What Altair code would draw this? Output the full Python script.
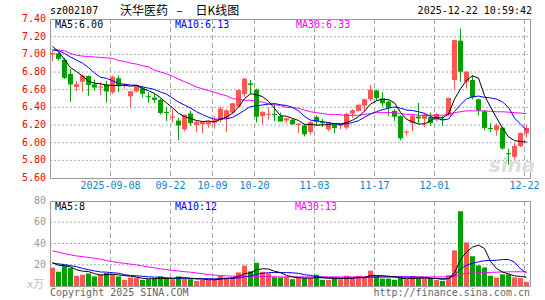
import altair as alt
import pandas as pd
import numpy as np

# ---------------- data ----------------
opens = [7.00, 7.01, 6.94, 6.78, 6.63, 6.69, 6.755, 6.66, 6.63, 6.655,
         6.57, 6.73, 6.64, 6.525, 6.58, 6.615, 6.525, 6.51, 6.485, 6.345,
         6.285, 6.25, 6.15, 6.33, 6.20, 6.21, 6.21, 6.23, 6.26, 6.28,
         6.34, 6.41, 6.55, 6.67, 6.60, 6.30, 6.315, 6.325, 6.30, 6.25,
         6.26, 6.20, 6.195, 6.12, 6.29, 6.23, 6.15, 6.21, 6.19, 6.17,
         6.33, 6.36, 6.42, 6.49, 6.59, 6.50, 6.465, 6.36, 6.30, 6.115,
         6.22, 6.295, 6.27, 6.29, 6.26, 6.27, 6.31, 6.71, 7.155, 6.69,
         6.71, 6.49, 6.355, 6.165, 6.14, 6.17, 5.88, 5.84, 5.96, 6.105]
highs = [7.04, 7.02, 6.96, 6.83, 6.70, 6.77, 6.76, 6.715, 6.685, 6.70,
         6.76, 6.76, 6.67, 6.58, 6.645, 6.645, 6.57, 6.55, 6.50, 6.40,
         6.38, 6.28, 6.32, 6.36, 6.25, 6.24, 6.25, 6.30, 6.41, 6.38,
         6.45, 6.595, 6.73, 6.71, 6.61, 6.36, 6.40, 6.43, 6.34, 6.28,
         6.27, 6.22, 6.21, 6.24, 6.31, 6.27, 6.23, 6.22, 6.21, 6.34,
         6.38, 6.43, 6.50, 6.655, 6.60, 6.57, 6.48, 6.38, 6.31, 6.14,
         6.32, 6.45, 6.33, 6.34, 6.33, 6.30, 6.51, 7.16, 7.29, 6.80,
         6.76, 6.50, 6.37, 6.22, 6.22, 6.18, 5.93, 5.995, 6.115, 6.20]
lows = [6.92, 6.93, 6.72, 6.46, 6.58, 6.58, 6.53, 6.59, 6.54, 6.455,
        6.55, 6.57, 6.61, 6.40, 6.57, 6.51, 6.45, 6.45, 6.32, 6.245,
        6.225, 6.03, 6.13, 6.19, 6.12, 6.11, 6.17, 6.16, 6.23, 6.12,
        6.32, 6.40, 6.52, 6.55, 6.23, 6.21, 6.26, 6.245, 6.24, 6.22,
        6.20, 6.11, 6.07, 6.09, 6.19, 6.18, 6.13, 6.11, 6.15, 6.15,
        6.28, 6.35, 6.35, 6.47, 6.48, 6.41, 6.30, 6.245, 6.03, 6.08,
        6.13, 6.22, 6.18, 6.19, 6.24, 6.19, 6.30, 6.60, 6.69, 6.615,
        6.49, 6.31, 6.14, 6.12, 6.08, 5.92, 5.75, 5.81, 5.95, 6.06]
closes = [7.01, 6.955, 6.74, 6.665, 6.655, 6.755, 6.66, 6.63, 6.63, 6.585,
          6.74, 6.645, 6.65, 6.575, 6.635, 6.56, 6.52, 6.49, 6.34, 6.34,
          6.29, 6.20, 6.31, 6.225, 6.23, 6.23, 6.23, 6.25, 6.38, 6.36,
          6.44, 6.59, 6.72, 6.66, 6.30, 6.34, 6.32, 6.32, 6.245, 6.27,
          6.215, 6.21, 6.10, 6.23, 6.24, 6.225, 6.225, 6.17, 6.195, 6.32,
          6.36, 6.425, 6.485, 6.595, 6.51, 6.45, 6.40, 6.30, 6.055, 6.12,
          6.30, 6.28, 6.31, 6.23, 6.32, 6.26, 6.50, 7.155, 6.81, 6.80,
          6.52, 6.37, 6.17, 6.16, 6.19, 5.94, 5.875, 5.955, 6.105, 6.16]
volumes = [17.3, 13.4, 19.2, 17.0, 9.6, 10.6, 11.8, 9.0, 10.6, 12.2,
           11.5, 9.0, 5.8, 8.0, 7.7, 5.8, 6.4, 7.0, 9.0, 7.4,
           6.4, 9.0, 7.0, 6.4, 4.8, 5.8, 5.8, 6.4, 9.6, 8.0,
           8.3, 12.8, 19.2, 13.8, 21.8, 13.4, 11.8, 8.3, 8.0, 8.6,
           6.4, 7.4, 7.4, 7.4, 10.6, 5.8, 5.8, 7.4, 6.4, 9.6,
           7.4, 9.6, 8.0, 14.4, 9.6, 7.0, 7.0, 5.8, 8.0, 6.4,
           9.0, 7.0, 7.0, 7.0, 5.8, 4.8, 10.2, 33.6, 70.4, 41.0,
           28.0, 19.5, 17.5, 9.6, 8.0, 11.0, 11.0, 8.0, 7.5, 4.0]

# moving-average values shown before a full window is available
ma5_head = [7.09, 7.03, 6.94, 6.85]
ma10_head = [7.05, 7.04, 7.01, 6.97, 6.935, 6.90, 6.85, 6.79, 6.74]
ma30_line = [7.05, 7.05, 7.04, 7.01, 6.99, 6.98, 6.975, 6.97, 6.965, 6.96,
             6.955, 6.93, 6.92, 6.90, 6.89, 6.87, 6.86, 6.82, 6.80, 6.78,
             6.75, 6.72, 6.69, 6.66, 6.63, 6.61, 6.59, 6.57, 6.55, 6.53,
             6.50, 6.49, 6.48, 6.48, 6.47, 6.46, 6.44, 6.43, 6.42, 6.40,
             6.40, 6.39, 6.37, 6.35, 6.34, 6.33, 6.32, 6.32, 6.315, 6.31,
             6.31, 6.31, 6.32, 6.33, 6.34, 6.34, 6.34, 6.34, 6.33, 6.32,
             6.32, 6.31, 6.31, 6.31, 6.31, 6.31, 6.32, 6.34, 6.35, 6.36,
             6.36, 6.36, 6.36, 6.355, 6.35, 6.35, 6.345, 6.34, 6.335, 6.33]
vol_ma5_head = [22.0, 19.5, 19.2, 18.0]
vol_ma10_head = [21.4, 20.8, 20.2, 19.2, 18.2, 16.6, 15.4, 14.2, 13.2]
vol_ma30_line = [33.0, 31.8, 30.5, 29.3, 28.3, 27.6, 26.9, 26.1, 25.2, 24.0,
                 23.0, 22.0, 21.3, 20.6, 19.8, 18.9, 18.0, 17.1, 16.2, 15.4,
                 14.7, 14.1, 13.5, 13.0, 12.3, 11.5, 10.7, 10.2, 9.8, 9.5,
                 9.3, 9.1, 9.0, 9.0, 9.0, 9.0, 8.8, 8.7, 8.6, 8.6,
                 8.6, 8.6, 8.6, 8.6, 8.6, 8.6, 8.6, 8.6, 8.6, 8.6,
                 8.6, 8.6, 8.6, 8.6, 8.6, 8.6, 8.6, 8.6, 8.6, 8.6,
                 8.6, 8.6, 8.6, 8.6, 8.6, 8.6, 8.6, 9.5, 11.2, 11.9,
                 12.2, 12.4, 12.6, 12.8, 13.0, 13.2, 13.3, 13.4, 13.4, 13.3]

tick_idx = [10, 20, 27, 34, 44, 54, 64, 79]
tick_labels = ["2025-09-08", "09-22", "10-09", "10-20", "11-03", "11-17", "12-01", "12-22"]
price_ticks = [7.40, 7.20, 7.00, 6.80, 6.60, 6.40, 6.20, 6.00, 5.80, 5.60]
price_grid = [7.20, 7.00, 6.80, 6.60, 6.40, 6.20, 6.00, 5.80]
vol_ticks = [80, 60, 40, 20]
vol_grid = [60, 40, 20]
ma_price_labels = ["MA5:6.00", "MA10:6.13", "MA30:6.33"]
ma_vol_labels = ["MA5:8", "MA10:12", "MA30:13"]
title_parts = ["沃华医药", "–", "日K线图"]

# ---------------- derived table ----------------
n = len(closes)
df = pd.DataFrame({"i": np.arange(n), "open": opens, "high": highs, "low": lows,
                   "close": closes, "volume": volumes})
df["dir"] = np.where(df["close"] >= df["open"], "up", "down")
df["xa"] = df["i"]
df["xb"] = df["i"] + 5 / 6
df["xm"] = df["i"] + 2.5 / 6
df["zero"] = 0.0
ma5 = df["close"].rolling(5).mean().to_numpy()
ma5[:4] = ma5_head
ma10 = df["close"].rolling(10).mean().to_numpy()
ma10[:9] = ma10_head
df["ma5"] = ma5
df["ma10"] = ma10
df["ma30"] = ma30_line
vma5 = df["volume"].rolling(5).mean().to_numpy()
vma5[:4] = vol_ma5_head
vma10 = df["volume"].rolling(10).mean().to_numpy()
vma10[:9] = vol_ma10_head
df["vma5"] = vma5
df["vma10"] = vma10
df["vma30"] = vol_ma30_line

ticks_df = pd.DataFrame({"idx": tick_idx, "lab": tick_labels})
ticks_df["gx"] = ticks_df["idx"] + 1 / 12
pt_df = pd.DataFrame({"p": price_ticks, "lab": [f"{p:.2f}" for p in price_ticks]})
pg_df = pd.DataFrame({"p": price_grid})
vt_df = pd.DataFrame({"v": vol_ticks, "lab": [str(v) for v in vol_ticks]})
vg_df = pd.DataFrame({"v": vol_grid})

# ---------------- styling ----------------
RED = "#ff5555"
GREEN = "#00a000"
MONO = "DejaVu Sans Mono"
CJK = "Noto Sans CJK SC"
GRID = "#aaaaaa"
BORDER = "#999999"
W, H = 480, 267
PRICE_H = 159
VOL_TOP, VOL_BOT = 182, 267

xs = alt.Scale(domain=[0, 80], nice=False, zero=False)
ps = alt.Scale(domain=[5.6, 7.4], range=[PRICE_H, 0], nice=False, zero=False)
vs = alt.Scale(domain=[0, 80], range=[VOL_BOT, VOL_TOP], nice=False, zero=False)
cs = alt.Scale(domain=["up", "down"], range=[RED, GREEN])


def X(f):
    return alt.X(f"{f}:Q", scale=xs, axis=None)


def PY(f):
    return alt.Y(f"{f}:Q", scale=ps, axis=None)


def VY(f):
    return alt.Y(f"{f}:Q", scale=vs, axis=None)


col = alt.Color("dir:N", scale=cs, legend=None)


def label(text, x, y, color, size=10, align="left", font=MONO, **kw):
    return alt.Chart(pd.DataFrame({"t": [text]})).mark_text(
        align=align, baseline="middle", color=color, fontSize=size, font=font, **kw
    ).encode(text="t:N", x=alt.value(x), y=alt.value(y))


base = alt.Chart(df)

# ---------------- price panel ----------------
p_hgrid = alt.Chart(pg_df).mark_rule(color=GRID, strokeDash=[2, 2], strokeWidth=1).encode(
    y=PY("p"), x=alt.value(0), x2=alt.value(W))
p_vgrid = alt.Chart(ticks_df).mark_rule(color=GRID, strokeDash=[5, 3], strokeWidth=1).encode(
    x=X("gx"), y=alt.value(0), y2=alt.value(PRICE_H))
p_box = alt.Chart(pd.DataFrame({"a": [0]})).mark_rect(fillOpacity=0, stroke=BORDER, strokeWidth=1).encode(
    x=alt.value(0.5), x2=alt.value(W + 0.5), y=alt.value(0.5), y2=alt.value(PRICE_H + 0.5))
wick = base.mark_rule(strokeWidth=1).encode(x=X("xm"), y=PY("low"), y2="high:Q", color=col)
body = base.mark_rect().encode(x=X("xa"), x2="xb:Q", y=PY("open"), y2="close:Q", color=col)
ctick = base.mark_rule(strokeWidth=1).encode(x=X("xa"), x2="xb:Q", y=PY("close"), color=col)
l30 = base.mark_line(color="#ff00ff", strokeWidth=1).encode(x=X("xm"), y=PY("ma30"))
l10 = base.mark_line(color="#0000ff", strokeWidth=1).encode(x=X("xm"), y=PY("ma10"))
l5 = base.mark_line(color="#000000", strokeWidth=1).encode(x=X("xm"), y=PY("ma5"))
p_labels = alt.Chart(pt_df).mark_text(align="right", baseline="middle", color="#ee0000",
                                      fontSize=10, font=MONO).encode(
    x=alt.value(-4), y=PY("p"), text="lab:N")

price = alt.layer(p_hgrid, p_vgrid, p_box, wick, body, ctick, l30, l10, l5, p_labels)

# ---------------- volume panel ----------------
v_hgrid = alt.Chart(vg_df).mark_rule(color=GRID, strokeDash=[2, 2], strokeWidth=1).encode(
    y=VY("v"), x=alt.value(0), x2=alt.value(W))
v_vgrid = alt.Chart(ticks_df).mark_rule(color=GRID, strokeDash=[5, 3], strokeWidth=1).encode(
    x=X("gx"), y=alt.value(VOL_TOP), y2=alt.value(VOL_BOT))
v_box = alt.Chart(pd.DataFrame({"a": [0]})).mark_rect(fillOpacity=0, stroke=BORDER, strokeWidth=1).encode(
    x=alt.value(0.5), x2=alt.value(W + 0.5), y=alt.value(VOL_TOP + 0.5), y2=alt.value(VOL_BOT + 0.5))
vbar = base.mark_rect().encode(x=X("xa"), x2="xb:Q", y=VY("volume"), y2="zero:Q", color=col)
v30 = base.mark_line(color="#ff00ff", strokeWidth=1).encode(x=X("xm"), y=VY("vma30"))
v10 = base.mark_line(color="#0000ff", strokeWidth=1).encode(x=X("xm"), y=VY("vma10"))
v5 = base.mark_line(color="#000000", strokeWidth=1).encode(x=X("xm"), y=VY("vma5"))
v_labels = alt.Chart(vt_df).mark_text(align="right", baseline="middle", color="#999999",
                                      fontSize=10, font=MONO).encode(
    x=alt.value(-4), y=VY("v"), text="lab:N")

volume = alt.layer(v_hgrid, v_vgrid, v_box, vbar, v30, v10, v5, v_labels)

# ---------------- texts ----------------
date_labels = alt.Chart(ticks_df).mark_text(align="center", baseline="middle", color="#1080d0",
                                            fontSize=10, font=MONO).encode(
    x=X("gx"), y=alt.value(167), text="lab:N")

texts = alt.layer(
    date_labels,
    label("sz002107", 0, -8, "#000000", size=10),
    label(title_parts[0], 70, -8, "#000000", size=12, font=CJK),
    label(title_parts[1], 129.5, -8, "#000000", size=12, align="center", font=CJK),
    label(title_parts[2], 145.5, -8, "#000000", size=12, font=CJK),
    label("2025-12-22 10:59:42", 482, -8, "#000000", size=10, align="right"),
    label(ma_price_labels[0], 5, 5.5, "#000000"),
    label(ma_price_labels[1], 125, 5.5, "#0000ff"),
    label(ma_price_labels[2], 246, 5.5, "#ff00ff"),
    label(ma_vol_labels[0], 5, 188, "#000000"),
    label(ma_vol_labels[1], 125, 188, "#0000ff"),
    label(ma_vol_labels[2], 245, 188, "#ff00ff"),
    label("x万", -6, 266, "#bbbbbb", size=11, align="right", font=CJK),
    label("Copyright 2025 SINA.COM", 0, 274, "#666666"),
    label("http://finance.sina.com.cn", 480, 274, "#666666", align="right"),
    label("sina", 462, 147, "#dddddd", size=20, align="center", font="DejaVu Sans",
          fontStyle="italic", fontWeight="bold"),
)

chart = alt.layer(price, volume, texts).resolve_scale(y="independent").properties(
    width=W, height=H, autosize="none",
    padding={"left": 50, "top": 19, "right": 15, "bottom": 14},
).configure_view(stroke=None)

chart.save("out.html", embed_options={"renderer": "svg", "actions": False})
